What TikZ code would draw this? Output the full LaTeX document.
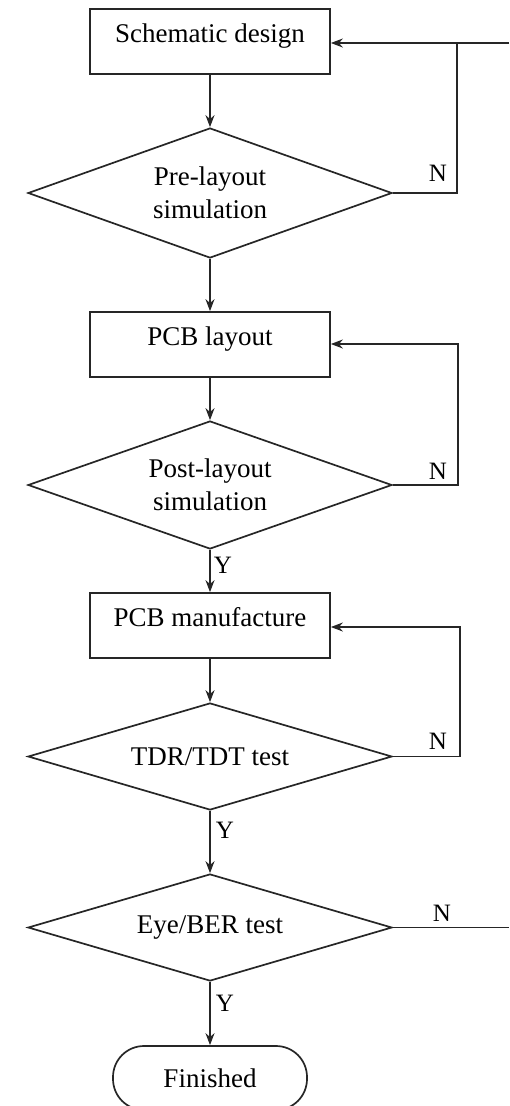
\documentclass[tikz,border=0pt]{standalone}
\usepackage{fontspec}
\setmainfont{Liberation Serif}
\usetikzlibrary{shapes.geometric,arrows.meta}
\begin{document}
\begin{tikzpicture}[x=1pt,y=-1pt,
  every node/.style={font=\fontsize{27}{33}\selectfont},
  line/.style={line width=1.7pt,draw=black!85},
  arr/.style={line, -{Stealth[length=12pt,width=9pt]}},
  procbox/.style={draw=black!85,line width=1.7pt,rectangle,minimum width=240pt,inner sep=0pt,text height=33pt,text depth=32pt},
  decision/.style={draw=black!85,line width=1.7pt,diamond,shape aspect=2.8,inner sep=0pt,minimum width=364pt,align=center},
  term/.style={draw=black!85,line width=1.7pt,rectangle,rounded corners=31pt,minimum width=194pt,minimum height=64pt,inner sep=0pt},
  lab/.style={inner sep=0pt,font=\fontsize{25}{28}\selectfont}]
\useasboundingbox (0,0) rectangle (509,1106);
\clip (0,0) rectangle (509,1106);
\node[procbox] (b1) at (210,41.5) {Schematic design};
\node[decision,minimum height=130pt] (d1) at (210,193) {Pre-layout\\simulation};
\node[procbox] (b2) at (210,344.5) {PCB layout};
\node[decision,minimum height=128pt] (d2) at (210,485) {Post-layout\\simulation};
\node[procbox] (b3) at (210,625.5) {PCB manufacture};
\node[decision,minimum height=107pt] (d3) at (210,756.5) {TDR/TDT test};
\node[decision,minimum height=107pt] (d4) at (210,927.5) {Eye/BER test};
\node[term] (f) at (210,1078) {Finished};
\coordinate (r1) at (509,43);
\coordinate (j1) at (457,43);
\coordinate (j2) at (458,344);
\coordinate (j3) at (460,627);
\coordinate (r4) at (509,927.5);
% main flow
\draw[arr] (b1) -- (d1);
\draw[arr] (d1) -- (b2);
\draw[arr] (b2) -- (d2);
\draw[arr] (d2) -- (b3);
\draw[arr] (b3) -- (d3);
\draw[arr] (d3) -- (d4);
\draw[arr] (d4) -- (f);
% feedback loops
\draw[arr] (r1) -- (b1.east |- r1);
\draw[line] (d1.east) -| (j1);
\draw[arr] (d2.east) -| (j2) -- (b2.east |- j2);
\draw[arr] (d3.east) -| (j3) -- (b3.east |- j3);
\draw[line] (d4.east) -- (r4);
% labels
\node[lab] (n1) at (438,173) {N};
\node[lab] (n2) at (438,471) {N};
\node[lab] (n3) at (438,741) {N};
\node[lab] (n4) at (442,913) {N};
\node[lab] (y2) at (223,565) {Y};
\node[lab] (y3) at (225,830) {Y};
\node[lab] (y4) at (225,1003) {Y};
\end{tikzpicture}
\end{document}
